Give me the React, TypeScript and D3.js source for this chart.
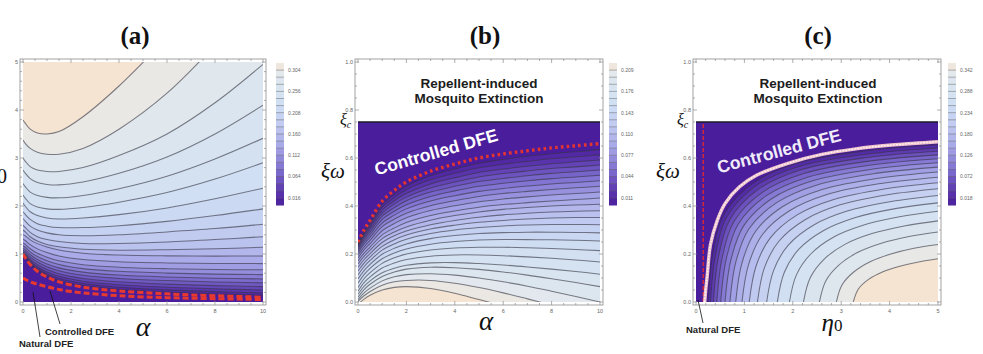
import React, { useEffect, useRef } from 'react';
import * as d3 from 'd3';

type Pt = [number, number];

// ---- panel (a): eta0 against alpha ----
const alphaGridA = [0, 0.1, 0.3, 0.6, 1, 1.5, 2.5, 4, 6, 8, 10];
// eta0 of each contour level at alphaGridA, lowest level first
const etaContoursA = [
  [1.01, 0.936, 0.8, 0.666, 0.548, 0.45, 0.343, 0.265, 0.207, 0.168, 0.14],
  [1.02, 0.955, 0.827, 0.697, 0.584, 0.488, 0.384, 0.308, 0.253, 0.216, 0.19],
  [1.03, 0.976, 0.857, 0.735, 0.627, 0.535, 0.433, 0.36, 0.308, 0.274, 0.25],
  [1.05, 1.005, 0.895, 0.78, 0.677, 0.588, 0.49, 0.421, 0.372, 0.341, 0.32],
  [1.08, 1.043, 0.941, 0.832, 0.735, 0.65, 0.556, 0.491, 0.446, 0.418, 0.4],
  [1.12, 1.087, 0.989, 0.886, 0.793, 0.711, 0.622, 0.561, 0.52, 0.495, 0.48],
  [1.17, 1.14, 1.046, 0.948, 0.859, 0.78, 0.695, 0.639, 0.602, 0.581, 0.57],
  [1.23, 1.2, 1.11, 1.017, 0.933, 0.858, 0.777, 0.726, 0.694, 0.677, 0.67],
  [1.31, 1.281, 1.194, 1.107, 1.029, 0.958, 0.884, 0.839, 0.814, 0.802, 0.8],
  [1.4, 1.375, 1.295, 1.216, 1.146, 1.082, 1.015, 0.978, 0.961, 0.956, 0.96],
  [1.5, 1.46, 1.36, 1.27, 1.2, 1.15, 1.1, 1.08, 1.09, 1.11, 1.14],
  [1.6, 1.55, 1.45, 1.36, 1.3, 1.26, 1.22, 1.22, 1.25, 1.3, 1.36],
  [1.74, 1.68, 1.58, 1.5, 1.44, 1.4, 1.38, 1.4, 1.46, 1.53, 1.62],
  [1.88, 1.82, 1.72, 1.63, 1.58, 1.55, 1.55, 1.59, 1.68, 1.8, 1.94],
  [2.06, 1.99, 1.88, 1.8, 1.75, 1.73, 1.75, 1.82, 1.96, 2.15, 2.37],
  [2.23, 2.16, 2.05, 1.98, 1.94, 1.93, 1.97, 2.08, 2.28, 2.56, 2.9],
  [2.47, 2.4, 2.29, 2.22, 2.18, 2.17, 2.22, 2.36, 2.62, 2.98, 3.41],
  [2.75, 2.68, 2.57, 2.49, 2.45, 2.44, 2.5, 2.68, 3.02, 3.5, 4.1],
  [3.0, 2.93, 2.82, 2.75, 2.72, 2.72, 2.8, 3.05, 3.5, 4.15, 4.95],
  [3.375, 3.3, 3.2, 3.12, 3.08, 3.08, 3.2, 3.6, 4.35, 5.35, 6.5],
  [3.79, 3.72, 3.6, 3.52, 3.5, 3.55, 3.86, 4.5, 5.5, 6.5, 7.5],
];
const controlledDfeA = [1.0, 0.92, 0.78, 0.64, 0.52, 0.42, 0.31, 0.23, 0.17, 0.13, 0.1];
const naturalDfeA = [0.5, 0.47, 0.42, 0.37, 0.32, 0.26, 0.19, 0.13, 0.09, 0.07, 0.05];

// ---- panel (b): xi*omega against alpha ----
const alphaGridB = [0, 0.25, 0.5, 1, 1.5, 2, 3, 4, 5, 6, 7, 8, 9, 10];
const xiContoursB = [
  [0.245, 0.293, 0.331, 0.407, 0.449, 0.483, 0.526, 0.554, 0.578, 0.594, 0.607, 0.618, 0.626, 0.635],
  [0.24, 0.286, 0.322, 0.395, 0.435, 0.468, 0.509, 0.536, 0.559, 0.574, 0.586, 0.597, 0.605, 0.613],
  [0.234, 0.278, 0.313, 0.383, 0.422, 0.452, 0.492, 0.518, 0.54, 0.554, 0.566, 0.576, 0.584, 0.592],
  [0.228, 0.27, 0.303, 0.37, 0.408, 0.437, 0.475, 0.5, 0.521, 0.535, 0.546, 0.556, 0.563, 0.571],
  [0.221, 0.261, 0.293, 0.358, 0.393, 0.422, 0.458, 0.482, 0.502, 0.515, 0.526, 0.536, 0.543, 0.55],
  [0.213, 0.251, 0.282, 0.344, 0.378, 0.405, 0.44, 0.463, 0.482, 0.495, 0.505, 0.514, 0.521, 0.528],
  [0.204, 0.241, 0.27, 0.329, 0.362, 0.388, 0.421, 0.443, 0.461, 0.473, 0.483, 0.492, 0.498, 0.505],
  [0.194, 0.229, 0.257, 0.314, 0.345, 0.37, 0.401, 0.422, 0.44, 0.452, 0.461, 0.469, 0.476, 0.482],
  [0.183, 0.217, 0.243, 0.297, 0.327, 0.351, 0.381, 0.401, 0.418, 0.429, 0.438, 0.446, 0.452, 0.458],
  [0.171, 0.203, 0.229, 0.28, 0.308, 0.331, 0.36, 0.379, 0.395, 0.406, 0.414, 0.421, 0.427, 0.433],
  [0.158, 0.19, 0.216, 0.264, 0.292, 0.313, 0.341, 0.36, 0.375, 0.386, 0.394, 0.4, 0.404, 0.407],
  [0.144, 0.176, 0.202, 0.248, 0.276, 0.296, 0.322, 0.34, 0.353, 0.363, 0.37, 0.375, 0.378, 0.38],
  [0.129, 0.162, 0.188, 0.232, 0.259, 0.279, 0.304, 0.32, 0.332, 0.34, 0.346, 0.35, 0.352, 0.352],
  [0.113, 0.147, 0.173, 0.216, 0.242, 0.261, 0.285, 0.3, 0.31, 0.317, 0.321, 0.323, 0.323, 0.322],
  [0.096, 0.131, 0.157, 0.199, 0.224, 0.242, 0.264, 0.277, 0.285, 0.289, 0.291, 0.291, 0.29, 0.288],
  [0.078, 0.114, 0.14, 0.18, 0.204, 0.221, 0.241, 0.252, 0.258, 0.26, 0.26, 0.259, 0.257, 0.254],
  [0.06, 0.097, 0.122, 0.161, 0.184, 0.2, 0.217, 0.225, 0.228, 0.228, 0.226, 0.223, 0.219, 0.214],
  [0.045, 0.081, 0.105, 0.142, 0.163, 0.177, 0.191, 0.196, 0.196, 0.193, 0.188, 0.182, 0.175, 0.167],
  [0.032, 0.065, 0.088, 0.122, 0.141, 0.153, 0.163, 0.164, 0.16, 0.154, 0.146, 0.137, 0.127, 0.116],
  [0.02, 0.052, 0.074, 0.106, 0.125, 0.137, 0.145, 0.143, 0.136, 0.125, 0.112, 0.097, 0.081, 0.064],
  [0.01, 0.038, 0.058, 0.088, 0.105, 0.114, 0.118, 0.112, 0.1, 0.084, 0.066, 0.045, 0.023, 0.0],
  [0.003, 0.026, 0.044, 0.07, 0.084, 0.09, 0.09, 0.078, 0.06, 0.038, 0.013, -0.013, -0.04, -0.067],
  [-0.01, 0.012, 0.028, 0.05, 0.061, 0.064, 0.056, 0.036, 0.01, -0.016, -0.042, -0.068, -0.094, -0.12],
];
const controlledDfeB = [0.25, 0.3, 0.34, 0.42, 0.465, 0.5, 0.545, 0.575, 0.6, 0.617, 0.63, 0.642, 0.651, 0.66];

// ---- panel (c): xi*omega against eta0, [eta0, xi*omega] pairs ----
const xiContoursC: Pt[][] = [
  [[0.25, 0], [0.345, 0.197], [0.564, 0.36], [1.153, 0.491], [2.055, 0.576], [3.48, 0.629], [5, 0.655]],
  [[0.3, 0], [0.4, 0.193], [0.629, 0.352], [1.216, 0.481], [2.11, 0.564], [3.508, 0.616], [5, 0.642]],
  [[0.36, 0], [0.464, 0.188], [0.702, 0.344], [1.286, 0.469], [2.171, 0.551], [3.539, 0.602], [5, 0.628]],
  [[0.43, 0], [0.54, 0.184], [0.784, 0.335], [1.371, 0.457], [2.244, 0.536], [3.579, 0.587], [5, 0.613]],
  [[0.51, 0], [0.625, 0.179], [0.878, 0.326], [1.464, 0.444], [2.323, 0.521], [3.62, 0.571], [5, 0.597]],
  [[0.6, 0], [0.72, 0.174], [0.981, 0.316], [1.563, 0.43], [2.407, 0.505], [3.663, 0.554], [5, 0.58]],
  [[0.7, 0], [0.826, 0.169], [1.096, 0.305], [1.675, 0.415], [2.502, 0.488], [3.713, 0.536], [5, 0.562]],
  [[0.82, 0], [0.95, 0.163], [1.229, 0.294], [1.801, 0.399], [2.607, 0.469], [3.768, 0.516], [5, 0.542]],
  [[0.95, 0], [1.086, 0.156], [1.374, 0.281], [1.94, 0.381], [2.723, 0.449], [3.828, 0.494], [5, 0.52]],
  [[1.1, 0], [1.24, 0.149], [1.535, 0.267], [2.091, 0.363], [2.847, 0.427], [3.892, 0.471], [5, 0.497]],
  [[1.27, 0], [1.413, 0.142], [1.712, 0.253], [2.253, 0.343], [2.979, 0.405], [3.961, 0.447], [5, 0.472]],
  [[1.46, 0], [1.606, 0.133], [1.907, 0.237], [2.433, 0.321], [3.124, 0.379], [4.036, 0.419], [5, 0.444]],
  [[1.68, 0], [1.826, 0.124], [2.126, 0.22], [2.63, 0.297], [3.28, 0.351], [4.117, 0.389], [5, 0.413]],
  [[1.93, 0], [2.075, 0.113], [2.371, 0.2], [2.847, 0.271], [3.452, 0.32], [4.206, 0.355], [5, 0.378]],
  [[2.22, 0], [2.36, 0.101], [2.644, 0.178], [3.086, 0.241], [3.636, 0.285], [4.301, 0.317], [5, 0.338]],
  [[2.55, 0], [2.681, 0.088], [2.946, 0.153], [3.345, 0.207], [3.831, 0.245], [4.401, 0.273], [5, 0.292]],
  [[2.9, 0], [3.019, 0.072], [3.259, 0.125], [3.608, 0.169], [4.026, 0.2], [4.502, 0.224], [5, 0.24]],
  [[3.25, 0], [3.355, 0.054], [3.565, 0.094], [3.863, 0.126], [4.213, 0.149], [4.598, 0.167], [5, 0.18]],
];
const controlledDfeC: Pt[] = [
  [0.18, 0], [0.2, 0.05], [0.23, 0.105], [0.3, 0.24], [0.44, 0.34], [0.6, 0.41], [0.9, 0.48],
  [1.25, 0.528], [1.9, 0.578], [2.6, 0.615], [3.3, 0.638], [4.1, 0.655], [5, 0.668],
];
const naturalDfeC = 0.15;

const xiCritical = 0.75;

// colour bar labels
const legendTicksA = [0.016, 0.064, 0.112, 0.16, 0.208, 0.256, 0.304];
const legendTicksB = [0.011, 0.044, 0.077, 0.11, 0.143, 0.176, 0.209];
const legendTicksC = [0.018, 0.072, 0.126, 0.18, 0.234, 0.288, 0.342];

// frame tick labels
const ticksAlpha = [0, 2, 4, 6, 8, 10];
const ticksEtaA = [0, 1, 2, 3, 4, 5];
const ticksXi = [0, 0.2, 0.4, 0.6, 0.8, 1.0];
const ticksEta0 = [0, 1, 2, 3, 4, 5];

const SERIF = '"Liberation Serif", "DejaVu Serif", serif';
const SANS = '"Liberation Sans", Arial, sans-serif';

const paletteStops = [0, 0.1, 0.25, 0.4, 0.55, 0.7, 0.85, 0.93, 0.97, 1];
const paletteColors = ['#4a1d9c', '#5c37b0', '#7f70d0', '#a5a4e6', '#bfc8f0', '#cfdef3', '#dae5ef', '#e4e9ec', '#eee7df', '#f5e4d2'];
const bandColor = d3.scaleLinear<string>().domain(paletteStops).range(paletteColors).interpolate(d3.interpolateRgb).clamp(true);

interface PanelSpec {
  id: string;
  title: string;
  titleX: number;
  left: number; right: number; top: number; bottom: number;
  xDomain: [number, number]; yDomain: [number, number];
  fillTop: number;
  contours: Pt[][];
  closure: Pt[];
  xTicks: number[]; xMinor: number; xFmt: (v: number) => string;
  yTicks: number[]; yMinor: number; yFmt: (v: number) => string;
  legendX: number; legendTicks: number[]; legendMax: number; legendStep: number;
}

const onGrid = (grid: number[], rows: number[][]): Pt[][] => rows.map(r => r.map((v, i) => [grid[i], v] as Pt));

const panels: PanelSpec[] = [
  {
    id: 'a', title: '(a)', titleX: 135,
    left: 23, right: 263, top: 62, bottom: 302,
    xDomain: [0, 10], yDomain: [0, 5], fillTop: 5,
    contours: onGrid(alphaGridA, etaContoursA),
    closure: [[10, 0], [0, 0]],
    xTicks: ticksAlpha, xMinor: 0.5, xFmt: d3.format('d'),
    yTicks: ticksEtaA, yMinor: 0.2, yFmt: d3.format('d'),
    legendX: 276, legendTicks: legendTicksA, legendMax: 0.32, legendStep: 0.016,
  },
  {
    id: 'b', title: '(b)', titleX: 485,
    left: 358, right: 600, top: 62, bottom: 302,
    xDomain: [0, 10], yDomain: [0, 1], fillTop: xiCritical,
    contours: onGrid(alphaGridB, xiContoursB),
    closure: [[10, xiCritical], [0, xiCritical]],
    xTicks: ticksAlpha, xMinor: 0.5, xFmt: d3.format('d'),
    yTicks: ticksXi, yMinor: 0.05, yFmt: d3.format('.1f'),
    legendX: 609, legendTicks: legendTicksB, legendMax: 0.22, legendStep: 0.011,
  },
  {
    id: 'c', title: '(c)', titleX: 818,
    left: 696, right: 938, top: 62, bottom: 302,
    xDomain: [0, 5], yDomain: [0, 1], fillTop: xiCritical,
    contours: xiContoursC,
    closure: [[5, xiCritical], [0, xiCritical], [0, 0]],
    xTicks: ticksEta0, xMinor: 0.2, xFmt: d3.format('d'),
    yTicks: ticksXi, yMinor: 0.05, yFmt: d3.format('.1f'),
    legendX: 948, legendTicks: legendTicksC, legendMax: 0.36, legendStep: 0.018,
  },
];

function drawPanel(root: d3.Selection<SVGSVGElement, unknown, null, undefined>, p: PanelSpec) {
  const x = d3.scaleLinear().domain(p.xDomain).range([p.left, p.right]);
  const y = d3.scaleLinear().domain(p.yDomain).range([p.bottom, p.top]);
  const g = root.append('g');

  const clipTop = y(p.fillTop);
  g.append('clipPath').attr('id', `clip-${p.id}`)
    .append('rect')
    .attr('x', p.left).attr('y', clipTop)
    .attr('width', p.right - p.left).attr('height', p.bottom - clipTop);
  const body = g.append('g').attr('clip-path', `url(#clip-${p.id})`);

  const line = d3.line<Pt>().x(d => x(d[0])).y(d => y(d[1])).curve(d3.curveCatmullRom.alpha(0.5));
  const n = p.contours.length;
  const close = p.closure.map(([cx, cy]) => `L${x(cx)},${y(cy)}`).join('') + 'Z';

  // filled bands, painted from the highest level down
  body.append('rect')
    .attr('x', p.left).attr('y', clipTop)
    .attr('width', p.right - p.left).attr('height', p.bottom - clipTop)
    .attr('fill', bandColor(1));
  for (let k = n - 1; k >= 0; k--) {
    body.append('path').attr('d', line(p.contours[k]) + close).attr('fill', bandColor(k / n));
  }
  // contour lines
  body.selectAll('path.level').data(p.contours).join('path')
    .attr('class', 'level')
    .attr('d', d => line(d))
    .attr('fill', 'none')
    .attr('stroke', '#363642')
    .attr('stroke-opacity', 0.62)
    .attr('stroke-width', 1.05);

  // frame, padded a little outside the plot range
  const pad = 3;
  const fx0 = p.left - pad, fx1 = p.right + pad, fy0 = p.top - pad, fy1 = p.bottom + pad;
  const axisCol = '#8c8c8c';
  g.append('rect')
    .attr('x', fx0).attr('y', fy0).attr('width', fx1 - fx0).attr('height', fy1 - fy0)
    .attr('fill', 'none').attr('stroke', axisCol).attr('stroke-width', 0.8);

  const isMajor = (ticks: number[], v: number) => ticks.some(t => Math.abs(t - v) < 1e-9);
  const xs = d3.range(p.xDomain[0], p.xDomain[1] + 1e-9, p.xMinor);
  const ys = d3.range(p.yDomain[0], p.yDomain[1] + 1e-9, p.yMinor);
  const tickG = g.append('g').attr('stroke', axisCol).attr('stroke-width', 0.7);
  xs.forEach(v => {
    const len = isMajor(p.xTicks, v) ? 4 : 2;
    tickG.append('line').attr('x1', x(v)).attr('x2', x(v)).attr('y1', fy1).attr('y2', fy1 - len);
    tickG.append('line').attr('x1', x(v)).attr('x2', x(v)).attr('y1', fy0).attr('y2', fy0 + len);
  });
  ys.forEach(v => {
    const len = isMajor(p.yTicks, v) ? 4 : 2;
    tickG.append('line').attr('y1', y(v)).attr('y2', y(v)).attr('x1', fx0).attr('x2', fx0 + len);
    tickG.append('line').attr('y1', y(v)).attr('y2', y(v)).attr('x1', fx1).attr('x2', fx1 - len);
  });
  g.selectAll('text.xt').data(p.xTicks).join('text')
    .attr('class', 'xt')
    .attr('x', d => x(d)).attr('y', fy1 + 8)
    .attr('text-anchor', 'middle')
    .attr('font-family', SANS).attr('font-size', 5.5).attr('fill', '#666')
    .text(d => p.xFmt(d));
  g.selectAll('text.yt').data(p.yTicks).join('text')
    .attr('class', 'yt')
    .attr('x', fx0 - 2).attr('y', d => y(d) + 2)
    .attr('text-anchor', 'end')
    .attr('font-family', SANS).attr('font-size', 5.5).attr('fill', '#666')
    .text(d => p.yFmt(d));

  // title
  g.append('text')
    .attr('x', p.titleX).attr('y', 44)
    .attr('text-anchor', 'middle')
    .attr('font-family', SERIF).attr('font-weight', 'bold').attr('font-size', 25)
    .attr('fill', '#111')
    .text(p.title);

  // colour bar
  const ly = d3.scaleLinear().domain([0, p.legendMax]).range([205, 63]);
  const bw = 8;
  const levels = d3.range(0, p.legendMax - 1e-9, p.legendStep);
  const lg = g.append('g');
  lg.selectAll('rect').data(levels).join('rect')
    .attr('x', p.legendX).attr('width', bw)
    .attr('y', d => ly(d + p.legendStep)).attr('height', d => ly(d) - ly(d + p.legendStep) + 0.5)
    .attr('fill', d => bandColor((d + p.legendStep / 2) / p.legendMax));
  lg.selectAll('line').data(levels.slice(1)).join('line')
    .attr('x1', p.legendX).attr('x2', p.legendX + bw)
    .attr('y1', d => ly(d)).attr('y2', d => ly(d))
    .attr('stroke', '#555').attr('stroke-opacity', 0.55).attr('stroke-width', 0.8);
  lg.selectAll('text').data(p.legendTicks).join('text')
    .attr('x', p.legendX + bw + 4).attr('y', d => ly(d) + 1.8)
    .attr('font-family', SANS).attr('font-size', 5).attr('fill', '#666')
    .text(d => d3.format('.3f')(d));

  return { x, y, g, body, line };
}

function label(g: d3.Selection<SVGGElement, unknown, null, undefined>, xPos: number, yPos: number, size: number) {
  return g.append('text')
    .attr('x', xPos).attr('y', yPos)
    .attr('font-family', SERIF).attr('font-style', 'italic').attr('font-size', size)
    .attr('fill', '#111');
}

export default function App() {
  const ref = useRef<SVGSVGElement>(null);

  useEffect(() => {
    if (!ref.current) return;
    const svg = d3.select(ref.current);
    svg.selectAll('*').remove();

    // ---------- (a) ----------
    const A = drawPanel(svg, panels[0]);
    const dfeA = (vals: number[]) => A.line(vals.map((v, i) => [alphaGridA[i], v] as Pt));
    [controlledDfeA, naturalDfeA].forEach(vals => {
      A.body.append('path').attr('d', dfeA(vals))
        .attr('fill', 'none').attr('stroke', '#e8392f').attr('stroke-width', 3)
        .attr('stroke-dasharray', '6 3');
    });
    const tA = label(A.g, 143, 336, 28);
    tA.attr('text-anchor', 'middle').text('α');
    const yA = label(A.g, 7, 183, 26).attr('text-anchor', 'end');
    yA.append('tspan').text('η');
    yA.append('tspan').attr('font-style', 'normal').attr('font-size', 20).text('0');
    A.g.append('line').attr('x1', 33).attr('y1', 292).attr('x2', 40).attr('y2', 337)
      .attr('stroke', '#111').attr('stroke-width', 0.8);
    A.g.append('line').attr('x1', 50).attr('y1', 291).attr('x2', 60).attr('y2', 324)
      .attr('stroke', '#111').attr('stroke-width', 0.8);
    A.g.append('text').attr('x', 45).attr('y', 335)
      .attr('font-family', SANS).attr('font-weight', 'bold').attr('font-size', 9.5).attr('fill', '#222')
      .text('Controlled DFE');
    A.g.append('text').attr('x', 19).attr('y', 347)
      .attr('font-family', SANS).attr('font-weight', 'bold').attr('font-size', 9.5).attr('fill', '#222')
      .text('Natural DFE');

    // ---------- (b) ----------
    const B = drawPanel(svg, panels[1]);
    B.body.append('path')
      .attr('d', B.line(controlledDfeB.map((v, i) => [alphaGridB[i], v] as Pt)))
      .attr('fill', 'none').attr('stroke', '#e3342f').attr('stroke-width', 3.4)
      .attr('stroke-dasharray', '2.6 3.2');

    // ---------- (c) ----------
    const C = drawPanel(svg, panels[2]);
    C.body.append('line')
      .attr('x1', C.x(naturalDfeC)).attr('x2', C.x(naturalDfeC))
      .attr('y1', C.y(0)).attr('y2', C.y(xiCritical))
      .attr('stroke', '#e02a2a').attr('stroke-width', 1.3).attr('stroke-dasharray', '4 2');
    C.body.append('path').attr('d', C.line(controlledDfeC))
      .attr('fill', 'none').attr('stroke', '#f0c4cc').attr('stroke-width', 3.4);
    C.body.append('path').attr('d', C.line(controlledDfeC))
      .attr('fill', 'none').attr('stroke', '#ffffff').attr('stroke-width', 1.2)
      .attr('stroke-dasharray', '1.5 1.5');

    // shared decorations of (b) and (c)
    [
      { P: B, cx: 479, ext: '#ffffff', xl: 'α', xlX: 486, yLabX: 321, xiX: 340 },
      { P: C, cx: 818, ext: '#f1ecfa', xl: '', xlX: 832, yLabX: 656, xiX: 677 },
    ].forEach(({ P, cx, ext, xl, xlX, yLabX, xiX }, i) => {
      const [x0, x1] = P.x.range();
      P.g.append('line')
        .attr('x1', x0).attr('x2', x1).attr('y1', P.y(xiCritical)).attr('y2', P.y(xiCritical))
        .attr('stroke', '#1a1a2a').attr('stroke-width', 1.6);
      const head = P.g.append('text')
        .attr('text-anchor', 'middle')
        .attr('font-family', SANS).attr('font-weight', 'bold').attr('font-size', 13.5).attr('fill', '#1c1c1c');
      head.append('tspan').attr('x', cx).attr('y', 88).text('Repellent-induced');
      head.append('tspan').attr('x', cx).attr('y', 103).text('Mosquito Extinction');

      const ang = i === 0 ? -16 : -15;
      const pos = i === 0 ? [436, 152] : [779, 151];
      P.g.append('text')
        .attr('transform', `translate(${pos[0]},${pos[1]}) rotate(${ang})`)
        .attr('text-anchor', 'middle').attr('dy', '0.35em')
        .attr('font-family', SANS).attr('font-weight', 'bold').attr('font-size', 17.5)
        .attr('fill', ext)
        .text('Controlled DFE');

      const yl = label(P.g, yLabX, 178, 21);
      yl.text('ξω');
      const xc = label(P.g, xiX, 125, 16);
      xc.append('tspan').text('ξ');
      xc.append('tspan').attr('font-size', 10).attr('dy', 3).text('c');

      if (xl) {
        label(P.g, xlX, 330, 27).attr('text-anchor', 'middle').text(xl);
      } else {
        const xe = label(P.g, xlX, 331, 25).attr('text-anchor', 'middle');
        xe.append('tspan').text('η');
        xe.append('tspan').attr('font-style', 'normal').attr('font-size', 17).text('0');
      }
    });

    C.g.append('line').attr('x1', 698).attr('y1', 300).attr('x2', 703).attr('y2', 323)
      .attr('stroke', '#111').attr('stroke-width', 0.8);
    C.g.append('text').attr('x', 686).attr('y', 333)
      .attr('font-family', SANS).attr('font-weight', 'bold').attr('font-size', 9.5).attr('fill', '#222')
      .text('Natural DFE');
  }, []);

  return (
    <svg
      ref={ref}
      width={983}
      height={354}
      style={{ position: 'absolute', left: 0, top: 0, background: '#ffffff', display: 'block' }}
    />
  );
}
